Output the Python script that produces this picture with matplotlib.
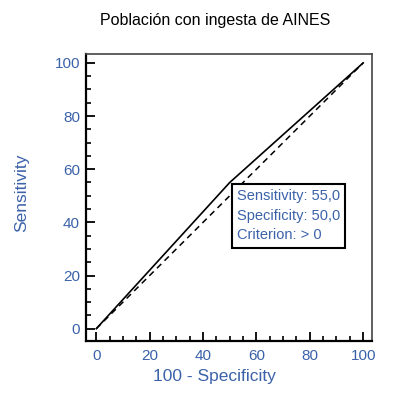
import matplotlib
matplotlib.use('Agg')
import matplotlib.pyplot as plt
from matplotlib.ticker import MultipleLocator

# ROC curve
fpr = [0, 50, 100]
tpr = [0, 55, 100]
ref_x = [0, 100]
ref_y = [0, 100]
cut_sens = 55.0
cut_spec = 50.0
criterion = '> 0'

title = 'Población con ingesta de AINES'
xlab = '100 - Specificity'
ylab = 'Sensitivity'

blue = '#3b62a9'
plt.rcParams['font.family'] = ['Liberation Sans', 'DejaVu Sans']

fig = plt.figure(figsize=(4.02, 3.95), dpi=100)
ax = fig.add_axes([0.213, 0.137, 0.713, 0.726])

ax.plot(ref_x, ref_y, color='black', lw=1.1, ls=(0, (4, 3)))
ax.plot(fpr, tpr, color='black', lw=1.2)

ax.set_xlim(-4, 103.4)
ax.set_ylim(-4.6, 103.3)
ax.xaxis.set_major_locator(MultipleLocator(20))
ax.yaxis.set_major_locator(MultipleLocator(20))
ax.xaxis.set_minor_locator(MultipleLocator(5))
ax.yaxis.set_minor_locator(MultipleLocator(5))
ax.tick_params(which='major', direction='in', length=6.5, width=1.3,
               labelsize=11, labelcolor=blue)
ax.tick_params(which='minor', direction='in', length=3.3, width=1.2)
ax.tick_params(axis='x', which='major', pad=6)
ax.tick_params(axis='y', which='major', pad=4)

for s in ['left', 'bottom']:
    ax.spines[s].set_linewidth(1.6)
for s in ['top', 'right']:
    ax.spines[s].set_linewidth(1.2)
    ax.spines[s].set_color('#444444')

ax.set_xlabel(xlab, color=blue, fontsize=12.5)
ax.set_ylabel(ylab, color=blue, fontsize=12.5)
ax.xaxis.set_label_coords(0.451, -0.097)
ax.yaxis.set_label_coords(-0.198, 0.516)
fig.text(0.535, 0.949, title, ha='center', va='center', fontsize=11.5)

txt = 'Sensitivity: %.1f\nSpecificity: %.1f\nCriterion: %s' % (cut_sens, cut_spec, criterion)
txt = txt.replace('.', ',')
ax.annotate(txt, xy=(fpr[1], tpr[1]), xytext=(5, -5), textcoords='offset points',
            ha='left', va='top', fontsize=10.5, color=blue, linespacing=1.5,
            bbox=dict(boxstyle='square,pad=0.35', fc='white', ec='black', lw=1.5))

fig.savefig('out.png', dpi=100)
